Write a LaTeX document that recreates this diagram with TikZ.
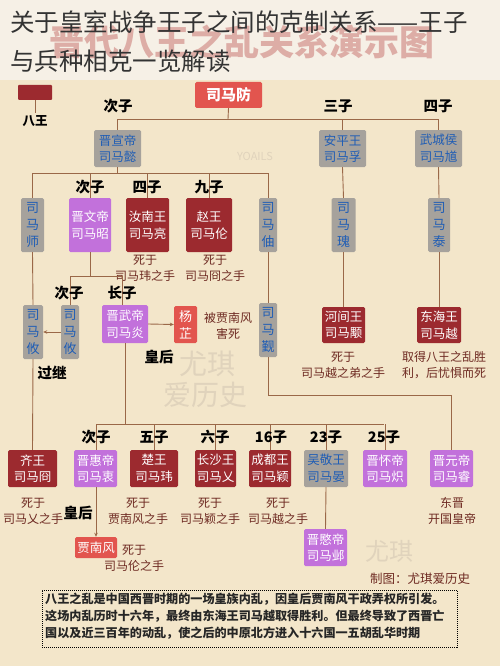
\documentclass[tikz,border=0pt]{standalone}
\usepackage{fontspec}
\setmainfont{Noto Sans CJK SC}
\usetikzlibrary{arrows.meta}
\definecolor{bgtop}{HTML}{F6F0E6}
\definecolor{bgmain}{HTML}{F3E6CA}
\definecolor{cgray}{HTML}{A6A29C}
\definecolor{cblue}{HTML}{1F5DB5}
\definecolor{cdred}{HTML}{9C2A2F}
\definecolor{cpur}{HTML}{C271DB}
\definecolor{cred}{HTML}{E2554E}
\definecolor{cline}{HTML}{9A6848}
\definecolor{cdeath}{HTML}{6E2A22}
\definecolor{cwm}{HTML}{E0D3BC}
\definecolor{chead}{HTML}{DDADA6}
\tikzset{
  bx/.style={rounded corners=1.5pt, inner sep=0pt, align=center, font=\fontsize{12.5}{16.5}\selectfont},
  sz/.style 2 args={minimum width=#1pt, minimum height=#2pt},
  gbox/.style={bx, fill=cgray, text=cblue},
  dbox/.style={bx, fill=cdred, text=white},
  pbox/.style={bx, fill=cpur, text=white},
  rbox/.style={bx, fill=cred, text=white},
  vt/.style={font=\fontsize{13}{17}\selectfont},
  ln/.style={draw=cline, line width=0.9pt},
  arr/.style={ln, -{Stealth[length=4pt,width=3.5pt]}},
  lb/.style={font=\bfseries\fontsize{14.5}{16}\selectfont, text=black, inner sep=0pt},
  dt/.style={text=cdeath, font=\fontsize{12}{16}\selectfont, align=center, inner sep=0pt},
  wm/.style={text=cwm, font=\fontsize{28}{34}\selectfont, inner sep=0pt}
}
\begin{document}
\begin{tikzpicture}[x=1pt,y=-1pt]
\useasboundingbox (0,0) rectangle (500,666);
\fill[bgtop] (0,0) rectangle (500,80);
\fill[bgmain] (0,80) rectangle (500,666);
% faded header and watermarks
\node[text=chead, font=\bfseries\fontsize{35}{38}\selectfont, inner sep=0pt] (head) at (242,42) {晋代八王之乱关系演示图};
\node[wm] (wm1) at (207,364) {尤琪};
\node[wm] (wm2) at (205,395) {爱历史};
\node[wm, font=\fontsize{24}{28}\selectfont] (wm3) at (389,551) {尤琪};
\node[text=cwm, font=\fontsize{11}{12}\selectfont, inner sep=0pt] (wm4) at (255,156) {YOAILS};
% title
\node[text=black!80, font=\fontsize{24.5}{30}\selectfont, inner sep=0pt, anchor=west] (t1) at (10,22) {关于皇室战争王子之间的克制关系——王子};
\node[text=black!80, font=\fontsize{24.5}{30}\selectfont, inner sep=0pt, anchor=west] (t2) at (10,61) {与兵种相克一览解读};
% legend
\node[dbox, sz={34}{15}, rounded corners=1pt] (leg) at (35,92.5) {};
\coordinate (legend) at (35,113);
\draw[ln] (leg.south) -- (legend);
\node[font=\bfseries\fontsize{12.5}{14}\selectfont, inner sep=0pt] (bawang) at (35,121) {八王};
% generation 0
\node[rbox, sz={67}{26}, font=\bfseries\fontsize{15}{17}\selectfont] (fang) at (228.5,95) {司马防};
\coordinate (h1) at (228,119);
\coordinate (h1l) at (118,119);
\coordinate (h1r) at (438,119);
\draw[ln] (fang.south) -- (h1);
\draw[ln] (h1l) -- (h1r);
\node[lb] (l1) at (118,106) {次子};
\node[lb] (l2) at (338,106) {三子};
\node[lb] (l3) at (438,106) {四子};
% generation 1
\node[gbox, sz={47}{37}] (yi) at (117.5,148.5) {晋宣帝\\司马懿};
\node[gbox, sz={47}{37}] (fu) at (342.5,148.5) {安平王\\司马孚};
\node[gbox, sz={47}{37}] (kui) at (438.5,148.5) {武城侯\\司马馗};
\draw[ln] (yi.north) -- (yi.north |- h1);
\draw[ln] (fu.north) -- (fu.north |- h1);
\draw[ln] (kui.north) -- (kui.north |- h1);
% generation 2
\coordinate (h2) at (117.5,173);
\coordinate (h2l) at (32.5,173);
\coordinate (h2r) at (268,173);
\draw[ln] (yi.south) -- (h2);
\draw[ln] (h2l) -- (h2r);
\node[gbox, sz={23}{54}, vt] (shi) at (32.5,225) {司\\马\\师};
\node[pbox, sz={42}{54}] (zhao) at (90,225) {晋文帝\\司马昭};
\node[dbox, sz={43}{54}] (liang) at (147.5,225) {汝南王\\司马亮};
\node[dbox, sz={46}{54}] (lun) at (209,225) {赵王\\司马伦};
\node[gbox, sz={18}{54}, vt] (zhou) at (268,225) {司\\马\\伷};
\node[gbox, sz={24}{54}, vt] (gui) at (343.5,225) {司\\马\\瑰};
\node[gbox, sz={22}{54}, vt] (tai) at (439,225) {司\\马\\泰};
\foreach \n in {shi,zhao,liang,lun,zhou} \draw[ln] (\n.north) -- (\n.north |- h2);
\draw[ln] (fu.south) -- (gui.north);
\draw[ln] (kui.south) -- (tai.north);
\node[lb] (l4) at (90,187) {次子};
\node[lb] (l5) at (147,187) {四子};
\node[lb] (l6) at (209,187) {九子};
\node[dt] (d1) at (145,268) {死于\\司马玮之手};
\node[dt] (d2) at (215,268) {死于\\司马冏之手};
% generation 3
\node[gbox, sz={20}{54}, vt] (youl) at (33,332) {司\\马\\攸};
\node[gbox, sz={18}{54}, vt] (your) at (70,332) {司\\马\\攸};
\node[pbox, sz={46}{38}] (yan) at (125,324) {晋武帝\\司马炎};
\node[rbox, sz={23}{37}, vt] (yang) at (185.5,324.5) {杨\\芷};
\node[gbox, sz={18}{54}, vt] (jin) at (268,330) {司\\马\\觐};
\node[dbox, sz={43}{36}] (yong) at (343.5,325) {河间王\\司马颙};
\node[dbox, sz={44}{36}] (yue) at (439,325) {东海王\\司马越};
\coordinate (h3) at (90,276);
\coordinate (h3l) at (70,276);
\coordinate (h3r) at (122,276);
\draw[ln] (zhao.south) -- (h3);
\draw[ln] (h3l) -- (h3r);
\draw[ln] (your.north) -- (your.north |- h3);
\draw[ln] (yan.north -| h3r) -- (h3r);
\draw[ln] (shi.south) -- (youl.north);
\draw[arr] (your.west) -- (youl.east);
\draw[arr] (yan.east) -- (yang.west);
\draw[ln] (zhou.south) -- (jin.north);
\draw[ln] (gui.south) -- (yong.north);
\draw[ln] (tai.south) -- (yue.north);
\node[lb] (l7) at (69,293) {次子};
\node[lb] (l8) at (122,293) {长子};
\node[lb] (l9) at (52,373) {过继};
\node[lb] (l10) at (159,357) {皇后};
\node[dt] (d3) at (228,325.5) {被贾南风\\害死};
\node[dt] (d4) at (343,365.5) {死于\\司马越之弟之手};
\node[dt] (d5) at (444,365.5) {取得八王之乱胜\\利，后忧惧而死};
% generation 4
\node[dbox, sz={49}{37}] (jiong) at (32.5,468.5) {齐王\\司马冏};
\node[pbox, sz={43}{37}] (zhong) at (95.5,468.5) {晋惠帝\\司马衷};
\node[dbox, sz={48}{37}] (wei) at (154,468.5) {楚王\\司马玮};
\node[dbox, sz={41}{37}] (ai) at (215.5,468.5) {长沙王\\司马乂};
\node[dbox, sz={42}{37}] (ying) at (270,468.5) {成都王\\司马颖};
\node[gbox, sz={44}{37}] (yan2) at (326,468.5) {吴敬王\\司马晏};
\node[pbox, sz={44}{37}] (chi) at (385,468.5) {晋怀帝\\司马炽};
\node[pbox, sz={43}{37}] (rui) at (451.5,468.5) {晋元帝\\司马睿};
\coordinate (h4) at (125,424);
\coordinate (h4l) at (96,424);
\coordinate (h4r) at (384,424);
\draw[ln] (yan.south) -- (h4);
\draw[ln] (h4l) -- (h4r);
\draw[ln] (zhong.north -| h4l) -- (h4l);
\foreach \n in {wei,ai,ying,yan2,chi} \draw[ln] (\n.north) -- (\n.north |- h4);
\draw[ln] (youl.south) -- (jiong.north);
\coordinate (h5l) at (268,395);
\coordinate (h5r) at (451.5,395);
\draw[ln] (jin.south) -- (h5l) -- (h5r) -- (rui.north);
\node[lb] (l11) at (96,437) {次子};
\node[lb] (l12) at (154,437) {五子};
\node[lb] (l13) at (215,437) {六子};
\node[lb] (l14) at (271,437) {16子};
\node[lb] (l15) at (326,437) {23子};
\node[lb] (l16) at (384,437) {25子};
\node[dt] (d6) at (33,511) {死于\\司马乂之手};
\node[dt] (d7) at (138,511) {死于\\贾南风之手};
\node[dt] (d8) at (210,511) {死于\\司马颖之手};
\node[dt] (d9) at (278,511) {死于\\司马越之手};
\node[dt] (d10) at (452,511) {东晋\\开国皇帝};
% generation 5
\node[rbox, sz={42}{21}] (nanfeng) at (96,547.5) {贾南风};
\node[pbox, sz={43}{37}] (ye) at (325.5,547.5) {晋愍帝\\司马邺};
\draw[arr] (zhong.south -| nanfeng.north) -- (nanfeng.north);
\draw[ln] (yan2.south) -- (ye.north);
\node[lb] (l17) at (78,513) {皇后};
\node[dt] (d11) at (134,558.5) {死于\\司马伦之手};
\node[text=cdeath, font=\fontsize{12.5}{14}\selectfont, inner sep=0pt] (credit) at (420,579) {制图：尤琪爱历史};
% bottom note
\node[draw=black, densely dotted, line width=1pt, inner sep=0pt, minimum width=415pt, minimum height=57pt] (note) at (249.5,618.5) {};
\node[anchor=north west, align=left, inner sep=0pt, font=\bfseries\fontsize{12.1}{17}\selectfont, text=black!85] (notetext) at (45,593) {八王之乱是中国西晋时期的一场皇族内乱，因皇后贾南风干政弄权所引发。\\这场内乱历时十六年，最终由东海王司马越取得胜利。但最终导致了西晋亡\\国以及近三百年的动乱，使之后的中原北方进入十六国一五胡乱华时期};
\end{tikzpicture}
\end{document}
